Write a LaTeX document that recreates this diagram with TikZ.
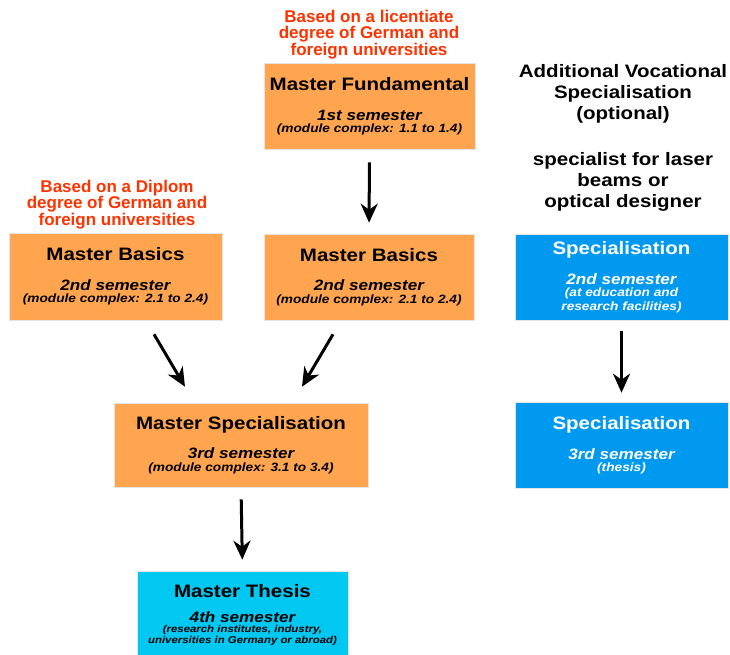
\documentclass[tikz,border=0pt]{standalone}
\usepackage{fontspec}
\setmainfont{Liberation Sans}
\newfontfamily\widesans{Liberation Sans}[FakeStretch=1.14]
\usetikzlibrary{arrows.meta,calc}
\definecolor{boxorange}{RGB}{255,165,80}
\definecolor{specblue}{RGB}{0,153,240}
\definecolor{thesiscyan}{RGB}{0,200,240}
\definecolor{notered}{RGB}{255,51,0}
\def\boxtitle#1{{\fontsize{18}{16}\selectfont\bfseries #1}}
\def\semline#1{{\fontsize{15}{16}\selectfont\bfseries\itshape #1}}
\def\boxdetail#1{{\fontsize{12}{16}\selectfont\bfseries\itshape #1}}
\def\thesisdetail#1{{\fontsize{10}{16}\selectfont\bfseries\itshape #1}}
\tikzset{
	box/.style={rectangle, draw=black!10, line width=0.6pt, inner sep=0pt, align=center,
		font=\widesans\fontsize{12}{16}\selectfont},
	orangebox/.style={box, fill=boxorange, text=black},
	bluebox/.style={box, fill=specblue, text=white},
	note/.style={inner sep=0pt, align=center, text=notered, font=\fontsize{17}{16.3}\selectfont\bfseries},
	arr/.style={line width=3pt, -{Stealth[length=19pt,width=17pt,inset=6pt]}}
}

\begin{document}
\begin{tikzpicture}[x=1pt,y=-1pt]
		%%%%% START %%%%%
		\useasboundingbox (0,0) rectangle (730,654);
		
		\node[note] (licnote) at (369,34.5) {Based on a licentiate\\degree of German and\\foreign universities};
		\node[note] (diplnote) at (117,204.5) {Based on a Diplom\\degree of German and\\foreign universities};
		\node[inner sep=0pt, align=center, font=\widesans\fontsize{18}{21}\selectfont\bfseries] (optnote) at (623,137.5)
			{Additional Vocational\\Specialisation\\(optional)\\[25pt]specialist for laser\\beams or\\optical designer};
		
		\node[orangebox, minimum width=211pt, minimum height=86pt] (fund) at (369.5,106.5)
			{\boxtitle{Master Fundamental}\\[13.5pt]\semline{1st semester}\\[-3.5pt]\boxdetail{(module complex: 1.1 to 1.4)}};
		\node[orangebox, minimum width=213pt, minimum height=87pt] (basicsleft) at (115.5,276.5)
			{\boxtitle{Master Basics}\\[13.5pt]\semline{2nd semester}\\[-3.5pt]\boxdetail{(module complex: 2.1 to 2.4)}};
		\node[orangebox, minimum width=210pt, minimum height=86pt] (basicsmid) at (369,277)
			{\boxtitle{Master Basics}\\[13.5pt]\semline{2nd semester}\\[-3.5pt]\boxdetail{(module complex: 2.1 to 2.4)}};
		\node[orangebox, minimum width=254pt, minimum height=84pt] (masterspec) at (241,445)
			{\boxtitle{Master Specialisation}\\[13.5pt]\semline{3rd semester}\\[-3.5pt]\boxdetail{(module complex: 3.1 to 3.4)}};
		\node[box, fill=thesiscyan, text=black, minimum width=211pt, minimum height=88pt] (thesis) at (242.5,615)
			{\boxtitle{Master Thesis}\\[9pt]\semline{4th semester}\\[-5.5pt]\thesisdetail{(research institutes, industry,}\\[-5pt]\thesisdetail{universities in Germany or abroad)}};
		
		\node[bluebox, minimum width=213pt, minimum height=86pt] (spectwo) at (621.5,277)
			{\boxtitle{Specialisation}\\[14pt]\semline{2nd semester}\\[-3.5pt]\boxdetail{(at education and}\\[-2.5pt]\boxdetail{research facilities)}};
		\node[bluebox, minimum width=213pt, minimum height=86pt] (specthree) at (621.5,445)
			{\boxtitle{Specialisation}\\[14pt]\semline{3rd semester}\\[-4pt]\boxdetail{(thesis)}};
		
		% arrows
		\coordinate (leftstart) at ($(basicsleft.south)+(38.5,14)$);
		\coordinate (leftend) at ($(masterspec.north)+(-56,-16)$);
		\coordinate (midstart) at ($(basicsmid.south)+(-36,14)$);
		\coordinate (midend) at ($(masterspec.north)+(61,-16)$);
		
		\draw[arr, shorten <=12.5pt, shorten >=11pt] (fund.south) -- (basicsmid.north);
		\draw[arr] (leftstart) -- (leftend);
		\draw[arr] (midstart) -- (midend);
		\draw[arr, shorten <=12pt, shorten >=11pt] (masterspec.south) -- (thesis.north);
		\draw[arr, shorten <=11pt, shorten >=9pt] (spectwo.south) -- (specthree.north);
		%%%%% END %%%%%
	\end{tikzpicture}
\end{document}
